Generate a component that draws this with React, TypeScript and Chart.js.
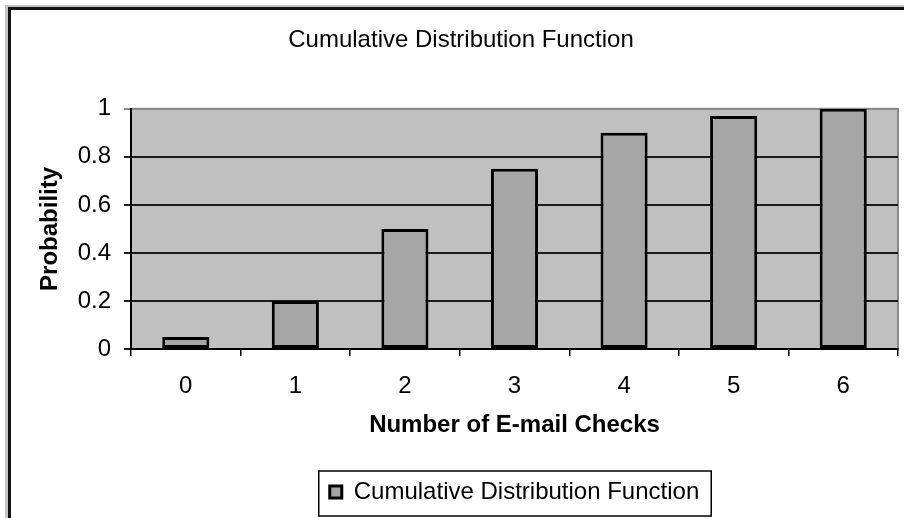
import React, { useEffect, useRef } from "react";
import { Chart, registerables } from "chart.js";

Chart.register(...registerables);

const categories = ["0", "1", "2", "3", "4", "5", "6"];
const cdfValues = [0.05, 0.2, 0.5, 0.75, 0.9, 0.97, 1.0];
const seriesLabel = "Cumulative Distribution Function";
const chartTitle = "Cumulative Distribution Function";
const xTitle = "Number of E-mail Checks";
const yTitle = "Probability";
const yTickValues = [0, 0.2, 0.4, 0.6, 0.8, 1];

const FONT = "'Liberation Sans', Arial, sans-serif";

const framePlugin = {
  id: "framePlugin",
  beforeDraw(chart: any) {
    const { ctx, chartArea, width, height } = chart;
    ctx.save();
    ctx.fillStyle = "#ffffff";
    ctx.fillRect(0, 0, width, height);
    ctx.fillStyle = "#c4c4c4";
    ctx.fillRect(5, 5, 3, height - 5);
    ctx.fillRect(5, 5, width - 5, 2);
    ctx.fillStyle = "#111111";
    ctx.fillRect(8, 7, 3, height - 7);
    ctx.fillRect(8, 7, width - 8, 3);
    ctx.fillStyle = "#c0c0c0";
    ctx.fillRect(chartArea.left, chartArea.top, chartArea.right - chartArea.left, chartArea.bottom - chartArea.top);
    ctx.strokeStyle = "#8a8a8a";
    ctx.lineWidth = 2;
    ctx.strokeRect(chartArea.left, chartArea.top, chartArea.right - chartArea.left, chartArea.bottom - chartArea.top);
    ctx.restore();
  },
  afterDraw(chart: any) {
    const legend = chart.legend;
    if (!legend || !legend.legendHitBoxes || !legend.legendHitBoxes.length) return;
    const hb = legend.legendHitBoxes[0];
    const { ctx } = chart;
    ctx.save();
    ctx.strokeStyle = "#000000";
    ctx.lineWidth = 1.5;
    const l = hb.left - 11;
    const t = hb.top - 9;
    const r = hb.left + hb.width + 12;
    const b = hb.top + hb.height + 12;
    ctx.strokeRect(l, t, r - l, b - t);
    ctx.restore();
  },
};

export default function App() {
  const canvasRef = useRef<HTMLCanvasElement | null>(null);

  useEffect(() => {
    const canvas = canvasRef.current;
    if (!canvas) return;
    const chart = new Chart(canvas, {
      type: "bar",
      data: {
        labels: categories,
        datasets: [
          {
            label: seriesLabel,
            data: cdfValues,
            backgroundColor: "#a6a6a6",
            borderColor: "#000000",
            borderWidth: 3,
            borderSkipped: false,
            barPercentage: 0.43,
            categoryPercentage: 1,
          },
        ],
      },
      options: {
        responsive: false,
        animation: false,
        devicePixelRatio: 1,
        layout: { padding: { left: 24, right: 6, top: 0, bottom: 4 } },
        plugins: {
          title: {
            display: true,
            text: chartTitle,
            color: "#000000",
            font: { family: FONT, size: 24, weight: "normal" },
            padding: { top: 26, bottom: 54 },
          },
          legend: {
            display: true,
            position: "bottom",
            fullSize: false,
            labels: {
              color: "#000000",
              font: { family: FONT, size: 24 },
              boxWidth: 12,
              boxHeight: 12,
              padding: 10,
            },
          },
          tooltip: { enabled: false },
        },
        scales: {
          x: {
            offset: true,
            grid: {
              display: true,
              drawOnChartArea: false,
              drawTicks: true,
              tickLength: 7,
              color: "#000000",
              lineWidth: 1.5,
            },
            border: { display: true, color: "#000000", width: 2 },
            ticks: {
              color: "#000000",
              font: { family: FONT, size: 24 },
              padding: 16,
            },
            title: {
              display: true,
              text: xTitle,
              color: "#000000",
              font: { family: FONT, size: 24, weight: "bold" },
              padding: { top: 0, bottom: 30 },
            },
            afterFit: (scale: any) => {
              scale.height = 121;
            },
          },
          y: {
            min: 0,
            max: 1,
            afterBuildTicks: (scale: any) => {
              scale.ticks = yTickValues.map((v) => ({ value: v }));
            },
            grid: {
              display: true,
              drawOnChartArea: true,
              drawTicks: true,
              tickLength: 7,
              color: (ctx: any) => (ctx.tick && ctx.tick.value === 1 ? "#8a8a8a" : "#1a1a1a"),
              lineWidth: 2,
            },
            border: { display: true, color: "#000000", width: 2 },
            ticks: {
              color: "#000000",
              font: { family: FONT, size: 24 },
              padding: 13,
              callback: (v: any) => String(Math.round(Number(v) * 10) / 10),
            },
            title: {
              display: true,
              text: yTitle,
              color: "#000000",
              font: { family: FONT, size: 24, weight: "bold" },
              padding: { top: 12, bottom: 0 },
            },
            afterFit: (scale: any) => {
              scale.width = 107;
            },
          },
        },
      },
      plugins: [framePlugin],
    });
    return () => chart.destroy();
  }, []);

  return (
    <div style={{ position: "absolute", left: 0, top: 0, width: 904, height: 518, background: "#fff" }}>
      <canvas ref={canvasRef} width={904} height={518} style={{ width: 904, height: 518, display: "block" }} />
    </div>
  );
}
